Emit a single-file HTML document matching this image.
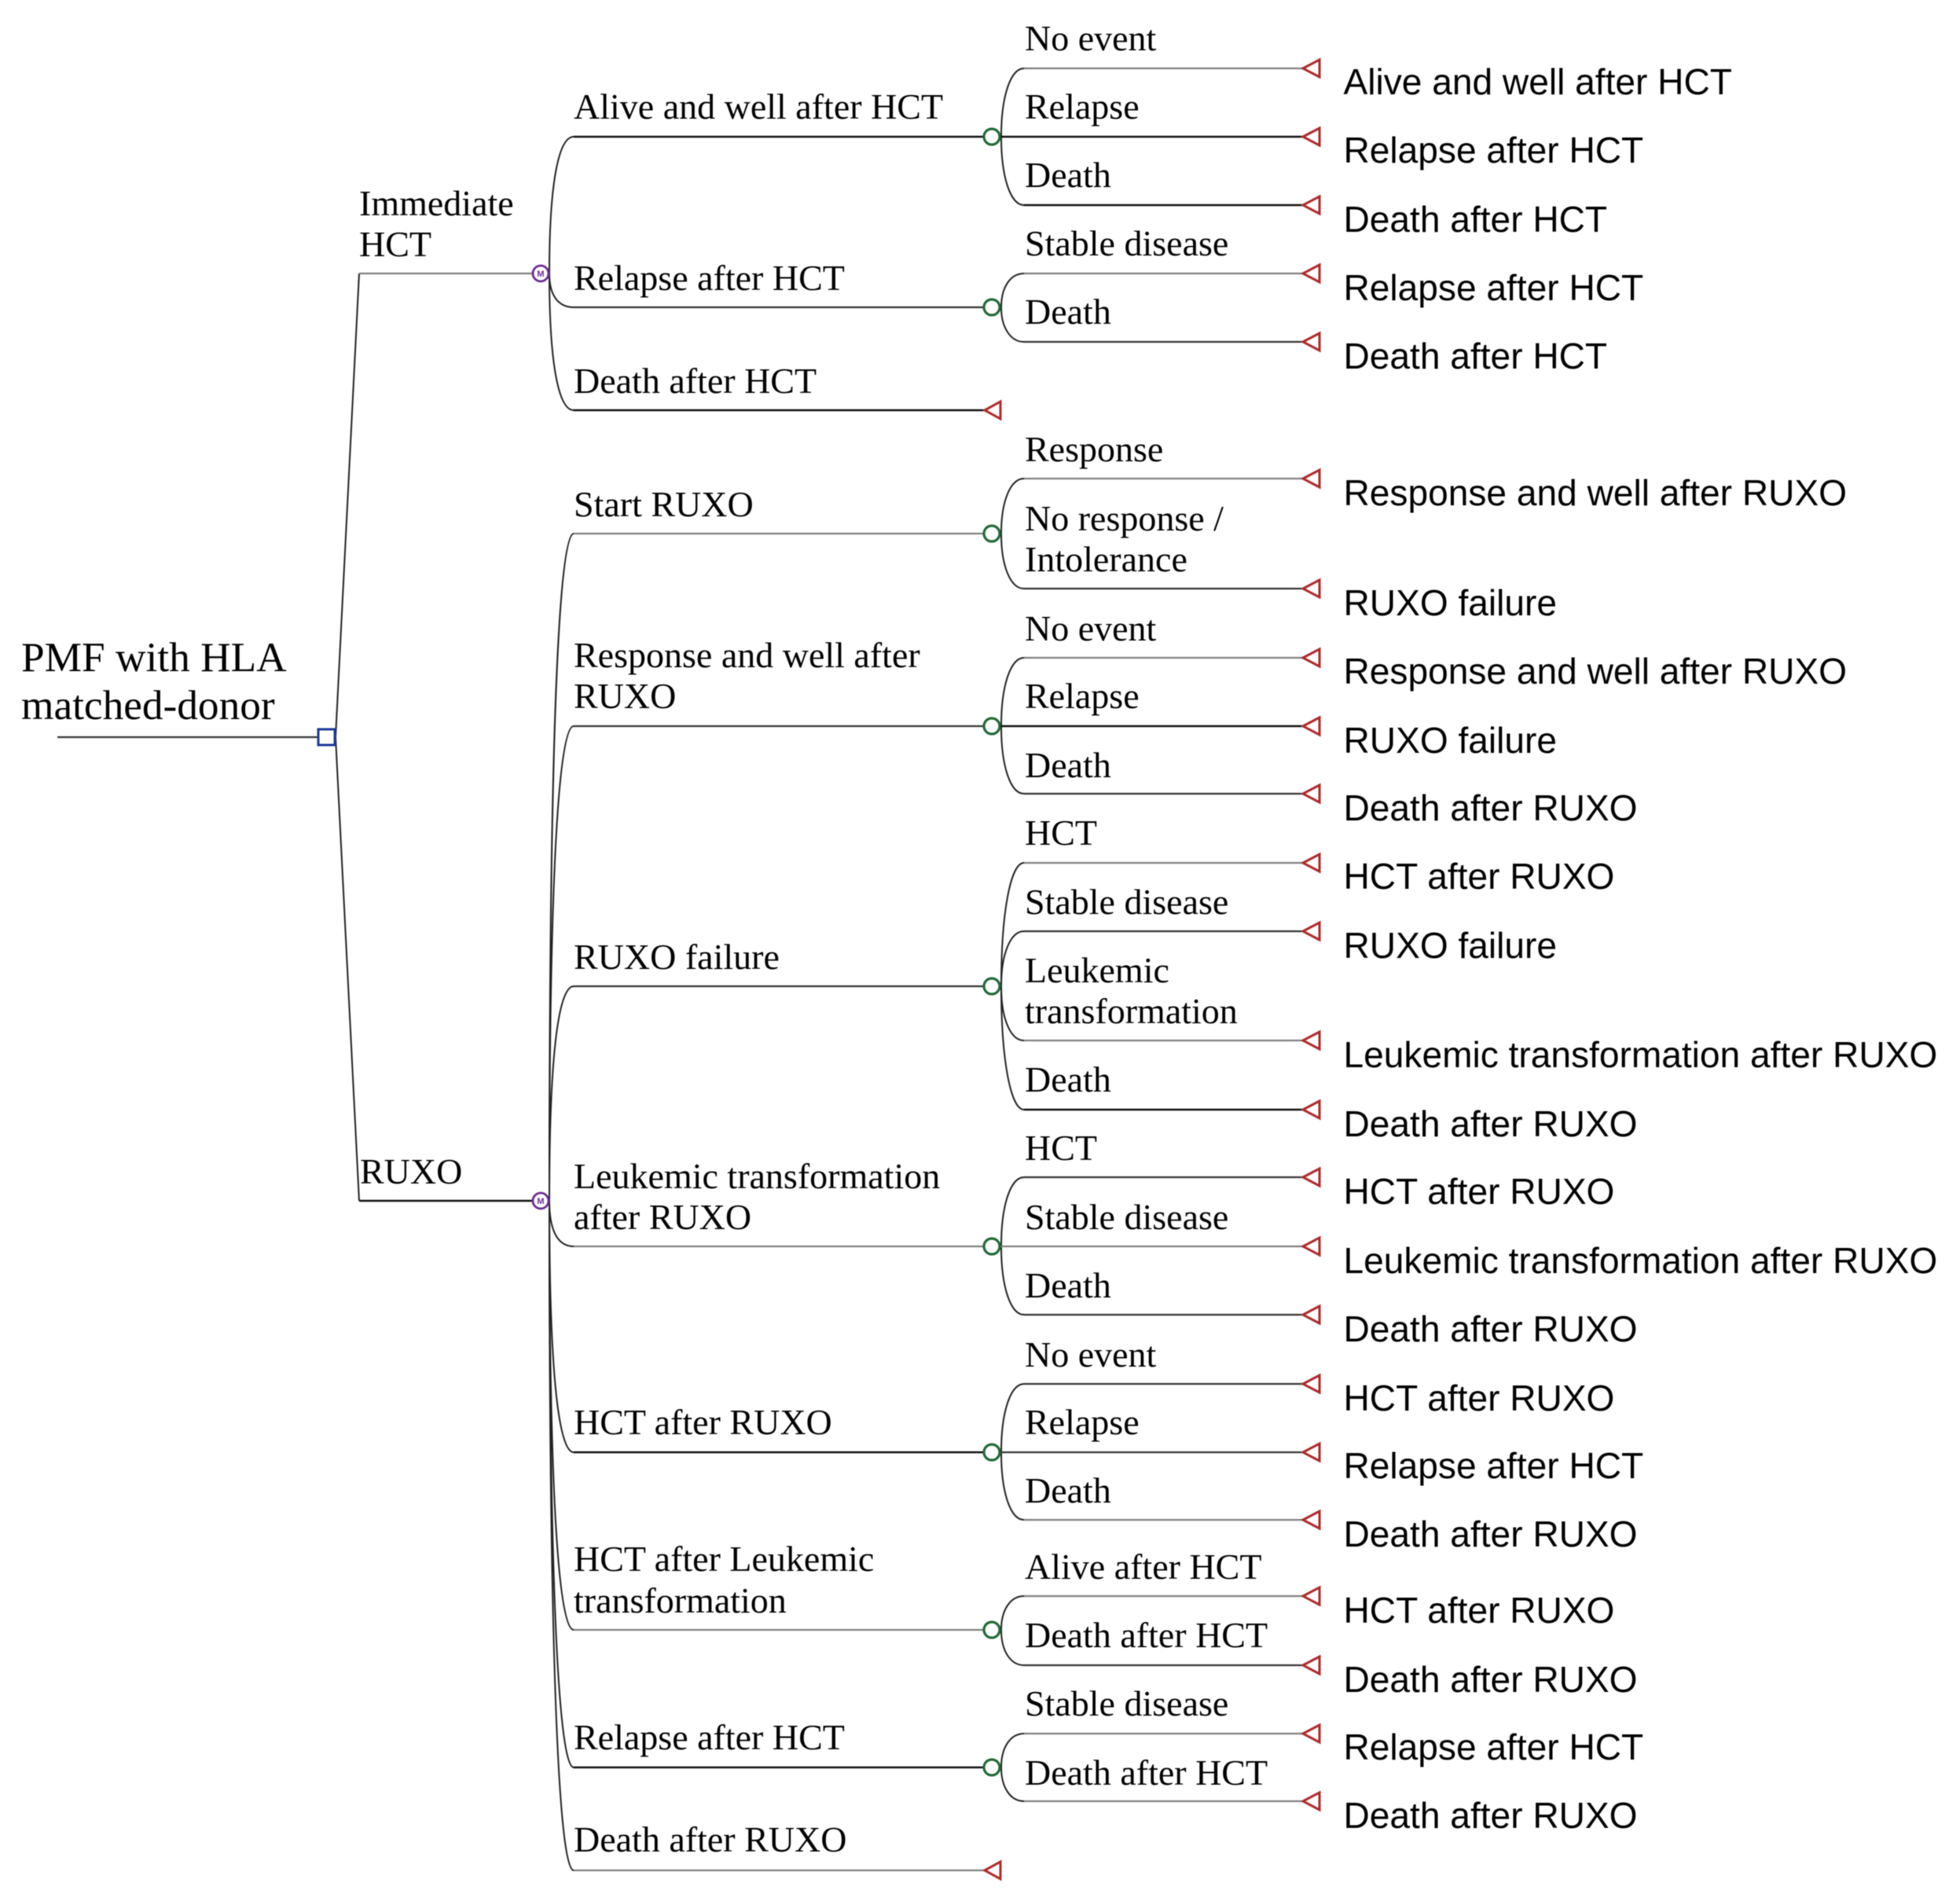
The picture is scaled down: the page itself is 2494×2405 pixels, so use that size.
<!DOCTYPE html>
<html lang="en">
<head>
<meta charset="utf-8">
<title>PMF decision tree</title>
<style>
html,body{margin:0;padding:0;background:#fff}
svg{display:block;filter:blur(.4px)}
.s{font-family:"Liberation Serif",serif;font-size:46px;fill:#000}
.r{font-family:"Liberation Sans",sans-serif;font-size:46.1px;fill:#000}
.k{stroke:#111;stroke-width:2.4;fill:none}
.d{stroke:#333;stroke-width:2.2;fill:none}
.g{stroke:#808080;stroke-width:2.2;fill:none}
.c{stroke:#222;stroke-width:2;fill:none}
.o{stroke:#1f6a35;stroke-width:3.2;fill:#fff}
.t{stroke:#b02a2a;stroke-width:3;fill:#fff}
.m{stroke:#6a2a92;stroke-width:2.8;fill:#fff}
</style>
</head>
<body>
<svg width="2494" height="2405" viewBox="0 0 2494 2405" xmlns="http://www.w3.org/2000/svg">
<rect width="2494" height="2405" fill="#fff"/>

<!-- root and first-level branches -->
<path class="d" d="M73 938H405"/>
<path class="c" d="M427 938L457 348"/>
<path class="c" d="M427 938L457 1528"/>
<path class="g" d="M457 348H677"/>
<path class="k" d="M457 1528H677"/>

<!-- second-level curves -->
<path class="c" d="M699 348C699 226 712 174 730 174"/>
<path class="c" d="M699 348C699 378 712 391 730 391"/>
<path class="c" d="M699 348C699 470 712 522 730 522"/>
<path class="c" d="M699 1528C699 917 712 679 730 679"/>
<path class="c" d="M699 1528C699 1093 712 924 730 924"/>
<path class="c" d="M699 1528C699 1331 712 1255 730 1255"/>
<path class="c" d="M699 1528C699 1570 712 1586 730 1586"/>
<path class="c" d="M699 1528C699 1758 712 1848 730 1848"/>
<path class="c" d="M699 1528C699 1921 712 2074 730 2074"/>
<path class="c" d="M699 1528C699 2047 712 2249 730 2249"/>
<path class="c" d="M699 1528C699 2141 712 2380 730 2380"/>

<!-- second-level lines -->
<path class="k" d="M730 174H1252"/>
<path class="d" d="M730 391H1252"/>
<path class="k" d="M730 522H1252"/>
<path class="g" d="M730 679H1252"/>
<path class="d" d="M730 924H1252"/>
<path class="d" d="M730 1255H1252"/>
<path class="g" d="M730 1586H1252"/>
<path class="k" d="M730 1848H1252"/>
<path class="g" d="M730 2074H1252"/>
<path class="k" d="M730 2249H1252"/>
<path class="g" d="M730 2380H1252"/>

<!-- third-level curves -->
<path class="c" d="M1274 174C1274 122 1286 87 1303 87"/>
<path class="c" d="M1274 174C1274 226 1286 261 1303 261"/>
<path class="c" d="M1274 391C1274 365 1286 348 1303 348"/>
<path class="c" d="M1274 391C1274 417 1286 435 1303 435"/>
<path class="c" d="M1274 679C1274 637 1286 609 1303 609"/>
<path class="c" d="M1274 679C1274 721 1286 749 1303 749"/>
<path class="c" d="M1274 924C1274 872 1286 837 1303 837"/>
<path class="c" d="M1274 924C1274 976 1286 1010 1303 1010"/>
<path class="c" d="M1274 1255C1274 1160 1286 1098 1303 1098"/>
<path class="c" d="M1274 1255C1274 1213 1286 1185 1303 1185"/>
<path class="c" d="M1274 1255C1274 1297 1286 1324 1303 1324"/>
<path class="c" d="M1274 1255C1274 1349 1286 1412 1303 1412"/>
<path class="c" d="M1274 1586C1274 1533 1286 1498 1303 1498"/>
<path class="c" d="M1274 1586C1274 1638 1286 1673 1303 1673"/>
<path class="c" d="M1274 1848C1274 1796 1286 1761 1303 1761"/>
<path class="c" d="M1274 1848C1274 1900 1286 1934 1303 1934"/>
<path class="c" d="M1274 2074C1274 2048 1286 2031 1303 2031"/>
<path class="c" d="M1274 2074C1274 2101 1286 2119 1303 2119"/>
<path class="c" d="M1274 2249C1274 2223 1286 2206 1303 2206"/>
<path class="c" d="M1274 2249C1274 2275 1286 2292 1303 2292"/>

<!-- third-level lines -->
<path class="g" d="M1303 87H1658"/>
<path class="k" d="M1272 174H1658"/>
<path class="k" d="M1303 261H1658"/>
<path class="g" d="M1303 348H1658"/>
<path class="d" d="M1303 435H1658"/>
<path class="g" d="M1303 609H1658"/>
<path class="d" d="M1303 749H1658"/>
<path class="g" d="M1303 837H1658"/>
<path class="k" d="M1272 924H1658"/>
<path class="d" d="M1303 1010H1658"/>
<path class="g" d="M1303 1098H1658"/>
<path class="d" d="M1303 1185H1658"/>
<path class="g" d="M1303 1324H1658"/>
<path class="k" d="M1303 1412H1658"/>
<path class="d" d="M1303 1498H1658"/>
<path class="g" d="M1272 1586H1658"/>
<path class="d" d="M1303 1673H1658"/>
<path class="d" d="M1303 1761H1658"/>
<path class="d" d="M1272 1848H1658"/>
<path class="g" d="M1303 1934H1658"/>
<path class="g" d="M1303 2031H1658"/>
<path class="d" d="M1303 2119H1658"/>
<path class="g" d="M1303 2206H1658"/>
<path class="g" d="M1303 2292H1658"/>

<!-- decision node -->
<rect x="405" y="928" width="21" height="20" fill="#fff" stroke="#1c3a9a" stroke-width="3"/>

<!-- Markov nodes -->
<circle class="m" cx="688" cy="348" r="10"/>
<circle class="m" cx="688" cy="1528" r="10"/>
<text x="688" y="352" text-anchor="middle" font-family="Liberation Sans, sans-serif" font-size="11" font-weight="bold" fill="#6a2a92">M</text>
<text x="688" y="1532" text-anchor="middle" font-family="Liberation Sans, sans-serif" font-size="11" font-weight="bold" fill="#6a2a92">M</text>

<!-- chance nodes -->
<circle class="o" cx="1262" cy="174" r="10"/>
<circle class="o" cx="1262" cy="391" r="10"/>
<circle class="o" cx="1262" cy="679" r="10"/>
<circle class="o" cx="1262" cy="924" r="10"/>
<circle class="o" cx="1262" cy="1255" r="10"/>
<circle class="o" cx="1262" cy="1586" r="10"/>
<circle class="o" cx="1262" cy="1848" r="10"/>
<circle class="o" cx="1262" cy="2074" r="10"/>
<circle class="o" cx="1262" cy="2249" r="10"/>

<!-- terminal nodes -->
<path class="t" d="M1253 522L1273 511V533Z"/>
<path class="t" d="M1253 2380L1273 2369V2391Z"/>
<path class="t" d="M1658 87L1679 76V98Z"/>
<path class="t" d="M1658 174L1679 163V185Z"/>
<path class="t" d="M1658 261L1679 250V272Z"/>
<path class="t" d="M1658 348L1679 337V359Z"/>
<path class="t" d="M1658 435L1679 424V446Z"/>
<path class="t" d="M1658 609L1679 598V620Z"/>
<path class="t" d="M1658 749L1679 738V760Z"/>
<path class="t" d="M1658 837L1679 826V848Z"/>
<path class="t" d="M1658 924L1679 913V935Z"/>
<path class="t" d="M1658 1010L1679 999V1021Z"/>
<path class="t" d="M1658 1098L1679 1087V1109Z"/>
<path class="t" d="M1658 1185L1679 1174V1196Z"/>
<path class="t" d="M1658 1324L1679 1313V1335Z"/>
<path class="t" d="M1658 1412L1679 1401V1423Z"/>
<path class="t" d="M1658 1498L1679 1487V1509Z"/>
<path class="t" d="M1658 1586L1679 1575V1597Z"/>
<path class="t" d="M1658 1673L1679 1662V1684Z"/>
<path class="t" d="M1658 1761L1679 1750V1772Z"/>
<path class="t" d="M1658 1848L1679 1837V1859Z"/>
<path class="t" d="M1658 1934L1679 1923V1945Z"/>
<path class="t" d="M1658 2031L1679 2020V2042Z"/>
<path class="t" d="M1658 2119L1679 2108V2130Z"/>
<path class="t" d="M1658 2206L1679 2195V2217Z"/>
<path class="t" d="M1658 2292L1679 2281V2303Z"/>

<!-- root labels -->
<text x="27" y="854" style="font-family:'Liberation Serif',serif;font-size:53.3px;fill:#000">PMF with HLA</text>
<text x="27" y="915" style="font-family:'Liberation Serif',serif;font-size:53.3px;fill:#000">matched-donor</text>

<!-- first-level labels -->
<text class="s" x="457" y="274">Immediate</text>
<text class="s" x="457" y="326">HCT</text>
<text class="s" x="458" y="1506">RUXO</text>

<!-- second-level labels -->
<text class="s" x="730" y="151">Alive and well after HCT</text>
<text class="s" x="730" y="369">Relapse after HCT</text>
<text class="s" x="730" y="500">Death after HCT</text>
<text class="s" x="730" y="657">Start RUXO</text>
<text class="s" x="730" y="849">Response and well after</text>
<text class="s" x="730" y="901">RUXO</text>
<text class="s" x="730" y="1233">RUXO failure</text>
<text class="s" x="730" y="1512">Leukemic transformation</text>
<text class="s" x="730" y="1564">after RUXO</text>
<text class="s" x="730" y="1825">HCT after RUXO</text>
<text class="s" x="730" y="1999">HCT after Leukemic</text>
<text class="s" x="730" y="2052">transformation</text>
<text class="s" x="730" y="2226">Relapse after HCT</text>
<text class="s" x="730" y="2356">Death after RUXO</text>

<!-- third-level labels -->
<text class="s" x="1304" y="64">No event</text>
<text class="s" x="1304" y="151">Relapse</text>
<text class="s" x="1304" y="238">Death</text>
<text class="s" x="1304" y="325">Stable disease</text>
<text class="s" x="1304" y="412">Death</text>
<text class="s" x="1304" y="587">Response</text>
<text class="s" x="1304" y="675">No response /</text>
<text class="s" x="1304" y="727">Intolerance</text>
<text class="s" x="1304" y="815">No event</text>
<text class="s" x="1304" y="901">Relapse</text>
<text class="s" x="1304" y="989">Death</text>
<text class="s" x="1304" y="1075">HCT</text>
<text class="s" x="1304" y="1163">Stable disease</text>
<text class="s" x="1304" y="1250">Leukemic</text>
<text class="s" x="1304" y="1302">transformation</text>
<text class="s" x="1304" y="1389">Death</text>
<text class="s" x="1304" y="1476">HCT</text>
<text class="s" x="1304" y="1564">Stable disease</text>
<text class="s" x="1304" y="1651">Death</text>
<text class="s" x="1304" y="1739">No event</text>
<text class="s" x="1304" y="1825">Relapse</text>
<text class="s" x="1304" y="1912">Death</text>
<text class="s" x="1304" y="2009">Alive after HCT</text>
<text class="s" x="1304" y="2096">Death after HCT</text>
<text class="s" x="1304" y="2183">Stable disease</text>
<text class="s" x="1304" y="2271">Death after HCT</text>

<!-- outcome labels -->
<text class="r" x="1709.5" y="120">Alive and well after HCT</text>
<text class="r" x="1709.5" y="207">Relapse after HCT</text>
<text class="r" x="1709.5" y="295">Death after HCT</text>
<text class="r" x="1709.5" y="382">Relapse after HCT</text>
<text class="r" x="1709.5" y="469">Death after HCT</text>
<text class="r" x="1709.5" y="643">Response and well after RUXO</text>
<text class="r" x="1709.5" y="783">RUXO failure</text>
<text class="r" x="1709.5" y="870">Response and well after RUXO</text>
<text class="r" x="1709.5" y="958">RUXO failure</text>
<text class="r" x="1709.5" y="1044">Death after RUXO</text>
<text class="r" x="1709.5" y="1131">HCT after RUXO</text>
<text class="r" x="1709.5" y="1219">RUXO failure</text>
<text class="r" x="1709.5" y="1358">Leukemic transformation after RUXO</text>
<text class="r" x="1709.5" y="1446">Death after RUXO</text>
<text class="r" x="1709.5" y="1532">HCT after RUXO</text>
<text class="r" x="1709.5" y="1620">Leukemic transformation after RUXO</text>
<text class="r" x="1709.5" y="1707">Death after RUXO</text>
<text class="r" x="1709.5" y="1795">HCT after RUXO</text>
<text class="r" x="1709.5" y="1881">Relapse after HCT</text>
<text class="r" x="1709.5" y="1968">Death after RUXO</text>
<text class="r" x="1709.5" y="2065">HCT after RUXO</text>
<text class="r" x="1709.5" y="2153">Death after RUXO</text>
<text class="r" x="1709.5" y="2239">Relapse after HCT</text>
<text class="r" x="1709.5" y="2326">Death after RUXO</text>
</svg>
</body>
</html>
